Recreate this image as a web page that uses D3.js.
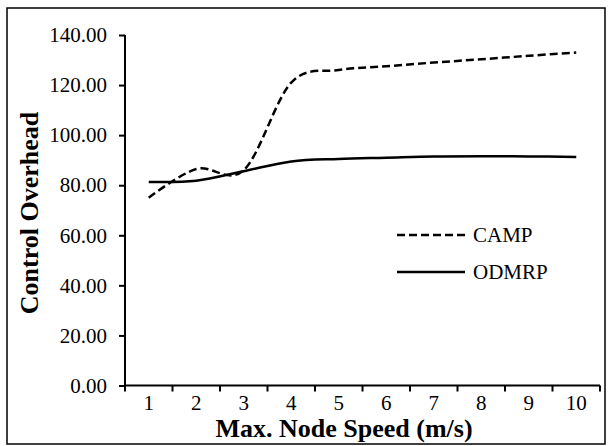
<!DOCTYPE html>
<html>
<head>
<meta charset="utf-8">
<script src="https://cdn.jsdelivr.net/npm/d3@7"></script>
<style>
  body { margin: 0; background: #fff; }
  text { font-family: "Liberation Serif", "Times New Roman", serif; fill: #000; }
</style>
</head>
<body>
<div id="chart"></div>
<script>
// Data
var speeds = [1, 2, 3, 4, 5, 6, 7, 8, 9, 10];
var campValues = [75, 86.5, 86, 121, 126, 127.5, 129, 130.3, 131.7, 133];
var odmrpValues = [81.3, 81.8, 85.6, 89.5, 90.5, 91, 91.5, 91.6, 91.5, 91.3];
var yTicks = [0, 20, 40, 60, 80, 100, 120, 140];

var svg = d3.select("#chart").append("svg")
  .attr("width", 608)
  .attr("height", 446);

// outer border
svg.append("rect")
  .attr("x", 7)
  .attr("y", 8)
  .attr("width", 598)
  .attr("height", 436)
  .attr("fill", "none")
  .attr("stroke", "#000")
  .attr("stroke-width", 1.5);

var x = d3.scaleBand()
  .domain(speeds)
  .range([125, 600]);

var y = d3.scaleLinear()
  .domain([0, 140])
  .range([385.5, 35]);

// y axis
var yAxis = svg.append("g")
  .attr("transform", "translate(125,0)")
  .call(d3.axisLeft(y).tickValues(yTicks).tickSize(6).tickPadding(12)
    .tickFormat(function(d) { return d3.format(".2f")(d); }));
yAxis.selectAll("path, line").attr("stroke", "#000").attr("stroke-width", 2);
yAxis.select(".domain").attr("d", "M0," + y(140) + "V" + y(0));
yAxis.selectAll("text").style("font-size", "21px")
  .style("font-family", "'Liberation Serif', 'Times New Roman', serif");

// x axis (labels centred, ticks between categories)
var xAxis = svg.append("g")
  .attr("transform", "translate(0," + y(0) + ")")
  .call(d3.axisBottom(x).tickSize(0).tickPadding(10));
xAxis.select(".domain").attr("d", "M" + x.range()[0] + ",0H" + x.range()[1])
  .attr("stroke", "#000").attr("stroke-width", 2);
xAxis.selectAll("text").style("font-size", "21px")
  .style("font-family", "'Liberation Serif', 'Times New Roman', serif");

var bounds = speeds.map(function(d) { return x(d); }).concat([x.range()[1]]);
xAxis.selectAll(".btick")
  .data(bounds)
  .enter()
  .append("line")
  .attr("class", "btick")
  .attr("x1", function(d) { return d; })
  .attr("x2", function(d) { return d; })
  .attr("y1", 0)
  .attr("y2", 6)
  .attr("stroke", "#000")
  .attr("stroke-width", 2);

// lines
var line = d3.line()
  .x(function(d, i) { return x(speeds[i]) + x.bandwidth() / 2; })
  .y(function(d) { return y(d); })
  .curve(d3.curveCatmullRom.alpha(0));

svg.append("path")
  .datum(odmrpValues)
  .attr("d", line)
  .attr("fill", "none")
  .attr("stroke", "#000")
  .attr("stroke-width", 2.5);

svg.append("path")
  .datum(campValues)
  .attr("d", line)
  .attr("fill", "none")
  .attr("stroke", "#000")
  .attr("stroke-width", 2.5)
  .attr("stroke-dasharray", "8,4");

// axis titles
svg.append("text")
  .attr("x", 344)
  .attr("y", 437)
  .attr("text-anchor", "middle")
  .style("font-size", "26px")
  .style("font-weight", "bold")
  .text("Max. Node Speed (m/s)");

svg.append("text")
  .attr("transform", "translate(38,213) rotate(-90)")
  .attr("text-anchor", "middle")
  .style("font-size", "26px")
  .style("font-weight", "bold")
  .text("Control Overhead");

// legend
var legendNames = ["CAMP", "ODMRP"];
var legend = svg.append("g")
  .attr("transform", "translate(397,235)");

legend.selectAll("line")
  .data(legendNames)
  .enter()
  .append("line")
  .attr("x1", 0)
  .attr("x2", 68)
  .attr("y1", function(d, i) { return i * 37; })
  .attr("y2", function(d, i) { return i * 37; })
  .attr("stroke", "#000")
  .attr("stroke-width", 2.5)
  .attr("stroke-dasharray", function(d, i) { return i === 0 ? "8,4" : null; });

legend.selectAll("text")
  .data(legendNames)
  .enter()
  .append("text")
  .attr("x", 76)
  .attr("y", function(d, i) { return i * 37 + 7; })
  .style("font-size", "21px")
  .text(function(d) { return d; });
</script>
</body>
</html>
